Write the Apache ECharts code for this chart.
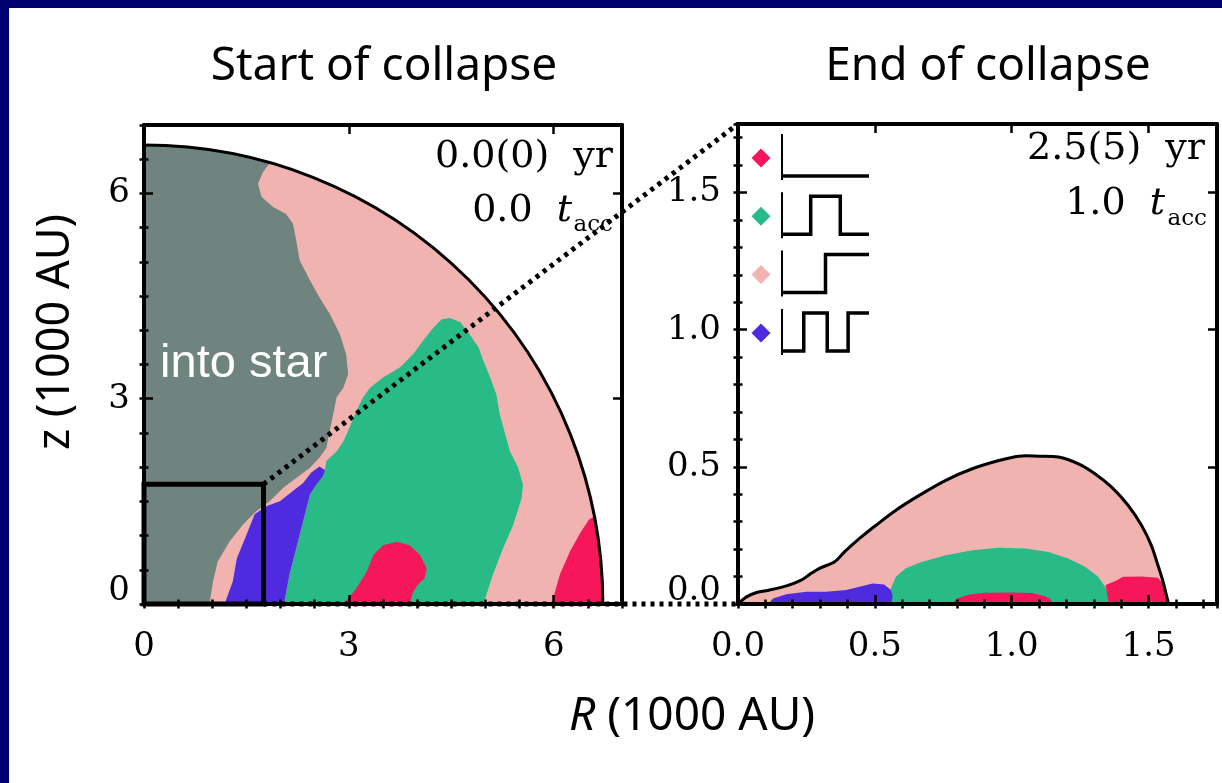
<!DOCTYPE html>
<html><head><meta charset="utf-8">
<script src="https://cdn.jsdelivr.net/npm/echarts@6/dist/echarts.min.js"></script>
<style>html,body{margin:0;padding:0;background:#fff}#c{width:1222px;height:783px}</style>
</head><body><div id="c"></div>
<script>
// ---------------- colours ----------------
const RED = '#f5175a', GREEN = '#28bb87', PINK = '#f1b3b0', BLUE = '#4f2ade', GRAY = '#6f837f', NAVY = '#000070';

// ---------------- left panel: start of collapse (R, z in 1000 AU) ----------------
const LEFT_MAX = 7, LEFT_MAJOR = 3, LEFT_MINOR = 0.5;
const cloudRadius = [6.72];
const zoomBox = [1.75];
const leftGray = [[0,0],[0,6.72],[0.6,6.69],[1.2,6.61],[1.84,6.44],[1.74,6.31],[1.67,6.14],[1.72,5.95],[1.89,5.80],[2.08,5.70],[2.18,5.56],[2.23,5.31],[2.28,5.02],[2.43,4.73],[2.57,4.48],[2.72,4.24],[2.87,3.94],[2.96,3.65],[2.99,3.36],[2.92,3.16],[2.82,3.02],[2.77,2.77],[2.72,2.53],[2.67,2.28],[2.57,2.14],[2.43,1.99],[2.23,1.84],[2.04,1.70],[1.84,1.50],[1.64,1.35],[1.45,1.16],[1.25,0.91],[1.08,0.62],[1.01,0.33],[0.96,0]];
const leftGreen = [[2.05,0],[4.97,0],[5.11,0.43],[5.26,0.82],[5.41,1.16],[5.53,1.55],[5.55,1.74],[5.48,1.99],[5.36,2.23],[5.29,2.48],[5.21,2.77],[5.16,3.06],[5.07,3.31],[4.97,3.55],[4.90,3.75],[4.77,3.94],[4.63,4.12],[4.48,4.18],[4.36,4.16],[4.24,4.04],[4.09,3.85],[3.94,3.65],[3.75,3.46],[3.50,3.31],[3.31,3.16],[3.21,3.02],[3.11,2.82],[3.01,2.58],[2.92,2.38],[2.82,2.23],[2.67,2.09],[2.65,1.96],[2.52,1.74],[2.43,1.60],[2.33,1.21],[2.23,0.82],[2.13,0.43]];
const leftBlue = [[1.18,0],[1.30,0.33],[1.36,0.67],[1.50,1.01],[1.62,1.31],[1.79,1.43],[1.99,1.50],[2.18,1.65],[2.33,1.77],[2.45,1.92],[2.57,2.01],[2.65,1.96],[2.62,1.87],[2.52,1.74],[2.43,1.60],[2.33,1.21],[2.23,0.82],[2.13,0.43],[2.05,0]];
const leftRedInner = [[2.92,0],[3.11,0.23],[3.26,0.47],[3.36,0.72],[3.50,0.86],[3.70,0.91],[3.89,0.86],[4.04,0.72],[4.14,0.52],[4.11,0.38],[4.01,0.28],[3.94,0.18],[3.89,0]];
const leftRedOuter = [[5.97,0],[6.09,0.43],[6.24,0.77],[6.39,1.04],[6.52,1.24],[6.60,1.28],[6.66,0.90],[6.69,0.60],[6.71,0.30],[6.72,0]];
const intoStar = [[1.46, 3.51, 'into star']];

// ---------------- right panel: end of collapse ----------------
const RIGHT_MAX = 1.75, RIGHT_MAJOR = 0.5, RIGHT_MINOR = 0.1;
const rightOutline = [[0,0],[0.031,0.026],[0.068,0.042],[0.116,0.051],[0.177,0.066],[0.231,0.087],[0.262,0.108],[0.298,0.130],[0.353,0.154],[0.389,0.190],[0.444,0.239],[0.504,0.287],[0.577,0.342],[0.662,0.396],[0.759,0.451],[0.856,0.493],[0.953,0.523],[1.025,0.539],[1.098,0.539],[1.171,0.536],[1.244,0.511],[1.304,0.475],[1.365,0.426],[1.425,0.360],[1.474,0.287],[1.510,0.214],[1.534,0.142],[1.553,0.081],[1.565,0.033],[1.573,0]];
const rightGreen = [[0.553,0],[0.559,0.057],[0.577,0.099],[0.613,0.130],[0.674,0.154],[0.759,0.178],[0.856,0.196],[0.953,0.205],[1.050,0.202],[1.134,0.190],[1.207,0.166],[1.268,0.136],[1.316,0.099],[1.341,0.063],[1.353,0.033],[1.359,0]];
const rightRedInner = [[0.777,0],[0.801,0.020],[0.844,0.035],[0.904,0.041],[1.001,0.042],[1.074,0.040],[1.116,0.030],[1.141,0.018],[1.153,0]];
const rightRedOuter = [[1.355,0],[1.347,0.045],[1.343,0.069],[1.377,0.083],[1.407,0.099],[1.474,0.100],[1.534,0.096],[1.556,0.069],[1.565,0.033],[1.573,0]];
const rightBlue = [[0.110,0],[0.128,0.020],[0.177,0.036],[0.250,0.045],[0.322,0.045],[0.395,0.051],[0.444,0.063],[0.492,0.075],[0.534,0.071],[0.559,0.051],[0.565,0.026],[0.559,0]];

// legend: colour + switching points of the step profile (fraction of width)
const legendColors = [RED, GREEN, PINK, BLUE];
const legendToggles = [[], [0.33, 0.67], [0.5], [0.25, 0.52, 0.76]];

// ---------------- text ----------------
const titles = ['Start of collapse', 'End of collapse'];
const leftTime = ['0.0(0)', '0.0'];
const rightTime = ['2.5(5)', '1.0'];

const SERIF = '"DejaVu Serif"';
const SANS = '"Noto Sans"';
const TICK_FONT = 34;

const chart = echarts.init(document.getElementById('c'), null, {renderer: 'canvas'});

function axisGroup(dim, g, max, major, minor, fmt, margin) {
  const common = {type: 'value', gridIndex: g, min: 0, max: max, z: 10, splitLine: {show: false}, axisPointer: {show: false}};
  const line = {show: true, onZero: false, lineStyle: {color: '#000', width: 4}};
  const tick = len => ({show: true, inside: true, length: len, lineStyle: {color: '#000', width: 2.5}});
  const pos = dim === 'x' ? ['bottom', 'top'] : ['left', 'right'];
  const label = {show: true, formatter: fmt, margin: margin, color: '#000', fontFamily: 'DejaVu Serif', fontSize: TICK_FONT,
    rich: {z: {fontFamily: 'DejaVu Serif', fontSize: TICK_FONT, color: '#000', padding: [0, 0, 26, 0]}}};
  return [
    Object.assign({}, common, {position: pos[0], interval: major, axisLine: line, axisTick: tick(9), axisLabel: label}),
    Object.assign({}, common, {position: pos[0], interval: minor, axisLine: {show: false}, axisTick: tick(4.5), axisLabel: {show: false}}),
    Object.assign({}, common, {position: pos[1], interval: major, axisLine: line, axisTick: tick(9), axisLabel: {show: false}}),
    Object.assign({}, common, {position: pos[1], interval: minor, axisLine: {show: false}, axisTick: tick(4.5), axisLabel: {show: false}})
  ];
}
const near = (v, m) => Math.abs(v / m - Math.round(v / m)) < 1e-6;
const leftXFmt = v => (near(v, LEFT_MAJOR) ? String(Math.round(v)) : '');
const leftYFmt = v => (v === 0 ? '{z|0}' : near(v, LEFT_MAJOR) ? String(Math.round(v)) : '');
const rightXFmt = v => (near(v, RIGHT_MAJOR) ? v.toFixed(1) : '');
const rightYFmt = v => (v === 0 ? '{z|0.0}' : near(v, RIGHT_MAJOR) ? v.toFixed(1) : '');

function polySeries(g, pts, fill) {
  const ai = g * 4;
  return {type: 'custom', coordinateSystem: 'cartesian2d', xAxisIndex: ai, yAxisIndex: ai, silent: true, clip: false,
    data: pts,
    renderItem: (params, api) => params.dataIndex !== 0 ? null : ({
      type: 'polygon', shape: {points: pts.map(p => api.coord(p))}, style: {fill: fill}
    })};
}
function lineSeries(g, pts, color, width) {
  const ai = g * 4;
  return {type: 'custom', coordinateSystem: 'cartesian2d', xAxisIndex: ai, yAxisIndex: ai, silent: true, clip: false,
    data: pts,
    renderItem: (params, api) => params.dataIndex !== 0 ? null : ({
      type: 'polyline', shape: {points: pts.map(p => api.coord(p)), smooth: 0.3}, style: {stroke: color, lineWidth: width, fill: null, lineJoin: 'round'}
    })};
}

const series = [
  // left: cloud (pink quarter disk)
  {type: 'custom', coordinateSystem: 'cartesian2d', xAxisIndex: 0, yAxisIndex: 0, silent: true, clip: false,
    data: [[0, 0, cloudRadius[0]]],
    renderItem: (params, api) => {
      const c = api.coord([api.value(0), api.value(1)]);
      const r = api.size([api.value(2), 0])[0];
      return {type: 'sector', shape: {cx: c[0], cy: c[1], r0: 0, r: r, startAngle: -Math.PI / 2, endAngle: 0, clockwise: true}, style: {fill: PINK}};
    }},
  polySeries(0, leftGray, GRAY),
  polySeries(0, leftGreen, GREEN),
  polySeries(0, leftBlue, BLUE),
  polySeries(0, leftRedInner, RED),
  polySeries(0, leftRedOuter, RED),
  // cloud edge
  {type: 'custom', coordinateSystem: 'cartesian2d', xAxisIndex: 0, yAxisIndex: 0, silent: true, clip: false,
    data: [[0, 0, cloudRadius[0]]],
    renderItem: (params, api) => {
      const c = api.coord([api.value(0), api.value(1)]);
      const r = api.size([api.value(2), 0])[0];
      return {type: 'arc', shape: {cx: c[0], cy: c[1], r: r, startAngle: -Math.PI / 2, endAngle: 0, clockwise: true}, style: {stroke: '#000', lineWidth: 3, fill: null}};
    }},
  // zoom box
  {type: 'custom', coordinateSystem: 'cartesian2d', xAxisIndex: 0, yAxisIndex: 0, silent: true, clip: false, z: 5,
    data: [[zoomBox[0], zoomBox[0]]],
    renderItem: (params, api) => {
      const p0 = api.coord([0, 0]);
      const p1 = api.coord([api.value(0), api.value(1)]);
      return {type: 'rect', shape: {x: p0[0], y: p1[1], width: p1[0] - p0[0], height: p0[1] - p1[1]}, style: {stroke: '#000', lineWidth: 5, fill: null}};
    }},
  // label
  {type: 'custom', coordinateSystem: 'cartesian2d', xAxisIndex: 0, yAxisIndex: 0, silent: true, clip: false,
    data: intoStar,
    renderItem: (params, api) => {
      const p = api.coord([api.value(0), api.value(1)]);
      return {type: 'text', x: p[0], y: p[1], style: {text: intoStar[params.dataIndex][2], fill: '#fff', fontSize: 47, fontFamily: 'Liberation Sans', align: 'center', verticalAlign: 'middle'}};
    }},
  // right panel
  polySeries(1, rightOutline, PINK),
  polySeries(1, rightGreen, GREEN),
  polySeries(1, rightRedInner, RED),
  polySeries(1, rightRedOuter, RED),
  polySeries(1, rightBlue, BLUE),
  lineSeries(1, rightOutline, '#000', 3)
];

const graphic = [
  {type: 'rect', shape: {x: 0, y: 0, width: 9, height: 783}, style: {fill: NAVY}, z: 200},
  {type: 'rect', shape: {x: 0, y: 0, width: 1222, height: 8}, style: {fill: NAVY}, z: 200},
  {type: 'text', x: 384, y: 67, style: {text: titles[0], font: '46px ' + SANS, fill: '#000', align: 'center', verticalAlign: 'middle'}},
  {type: 'text', x: 988, y: 67, style: {text: titles[1], font: '46px ' + SANS, fill: '#000', align: 'center', verticalAlign: 'middle'}},
  {type: 'text', x: 692, y: 717, style: {text: '{i|R} (1000 AU)', font: '46px ' + SANS, fill: '#000', align: 'center', verticalAlign: 'middle',
    rich: {i: {fontStyle: 'italic', fontSize: 46, fontFamily: 'Noto Sans', fill: '#000'}}}},
  {type: 'text', x: 56, y: 332, rotation: Math.PI / 2, style: {text: 'z (1000 AU)', font: '45px ' + SANS, fill: '#000', align: 'center', verticalAlign: 'middle'}},
  // time annotations
  {type: 'text', x: 613, y: 157, z: 50, style: {text: leftTime[0] + '  yr', font: '38px ' + SERIF, fill: '#000', align: 'right', verticalAlign: 'middle'}},
  {type: 'text', x: 572, y: 211, z: 50, style: {text: '{n|' + leftTime[1] + '}  {i|t}', font: '38px ' + SERIF, fill: '#000', align: 'right', verticalAlign: 'middle',
    rich: {n: {fontSize: 38, fontFamily: 'DejaVu Serif'}, i: {fontSize: 38, fontFamily: 'DejaVu Serif', fontStyle: 'italic'}}}},
  {type: 'text', x: 613, y: 225, z: 50, style: {text: 'acc', font: '23px ' + SERIF, fill: '#000', align: 'right', verticalAlign: 'middle'}},
  {type: 'text', x: 1205, y: 149, z: 50, style: {text: rightTime[0] + '  yr', font: '38px ' + SERIF, fill: '#000', align: 'right', verticalAlign: 'middle'}},
  {type: 'text', x: 1165, y: 204, z: 50, style: {text: '{n|' + rightTime[1] + '}  {i|t}', font: '38px ' + SERIF, fill: '#000', align: 'right', verticalAlign: 'middle',
    rich: {n: {fontSize: 38, fontFamily: 'DejaVu Serif'}, i: {fontSize: 38, fontFamily: 'DejaVu Serif', fontStyle: 'italic'}}}},
  {type: 'text', x: 1207, y: 219, z: 50, style: {text: 'acc', font: '23px ' + SERIF, fill: '#000', align: 'right', verticalAlign: 'middle'}}
];

// legend glyphs
const LG_DX = 761, LG_X0 = 782, LG_W = 87, LG_TOP = 134, LG_STEP = 58.3, LG_H = 46;
legendColors.forEach((col, i) => {
  const top = LG_TOP + i * LG_STEP;
  const hi = top + 4, lo = top + 42, cy = top + 24;
  graphic.push({type: 'polygon', z: 50, shape: {points: [[LG_DX, cy - 9.5], [LG_DX + 9.5, cy], [LG_DX, cy + 9.5], [LG_DX - 9.5, cy]]}, style: {fill: col}});
  graphic.push({type: 'line', z: 50, shape: {x1: LG_X0, y1: top, x2: LG_X0, y2: top + LG_H}, style: {stroke: '#000', lineWidth: 2}});
  const pts = [[LG_X0, lo]];
  let level = lo;
  legendToggles[i].forEach(t => {
    const x = LG_X0 + t * LG_W;
    pts.push([x, level]);
    level = level === lo ? hi : lo;
    pts.push([x, level]);
  });
  pts.push([LG_X0 + LG_W, level]);
  graphic.push({type: 'polyline', z: 50, shape: {points: pts}, style: {stroke: '#000', lineWidth: 3.5, fill: null}});
});

const option = {
  animation: false,
  backgroundColor: '#fff',
  grid: [
    {left: 144, top: 125, width: 478, height: 479, show: false, outerBoundsMode: 'none', containLabel: false},
    {left: 738, top: 124, width: 479, height: 480, show: false, outerBoundsMode: 'none', containLabel: false}
  ],
  xAxis: [].concat(axisGroup('x', 0, LEFT_MAX, LEFT_MAJOR, LEFT_MINOR, leftXFmt, 26), axisGroup('x', 1, RIGHT_MAX, RIGHT_MAJOR, RIGHT_MINOR, rightXFmt, 26)),
  yAxis: [].concat(axisGroup('y', 0, LEFT_MAX, LEFT_MAJOR, LEFT_MINOR, leftYFmt, 14), axisGroup('y', 1, RIGHT_MAX, RIGHT_MAJOR, RIGHT_MINOR, rightYFmt, 17)),
  series: series,
  graphic: graphic
};
chart.setOption(option);

// dotted connectors between zoom box and the right panel
const a = chart.convertToPixel({xAxisIndex: 0, yAxisIndex: 0}, [zoomBox[0], zoomBox[0]]);
const b = chart.convertToPixel({xAxisIndex: 4, yAxisIndex: 4}, [0, RIGHT_MAX]);
const c0 = chart.convertToPixel({xAxisIndex: 0, yAxisIndex: 0}, [zoomBox[0], 0]);
const d0 = chart.convertToPixel({xAxisIndex: 4, yAxisIndex: 4}, [0, 0]);
graphic.push({type: 'line', z: 100, shape: {x1: a[0], y1: a[1], x2: b[0], y2: b[1]}, style: {stroke: '#000', lineWidth: 5, lineDash: [4, 5]}});
graphic.push({type: 'line', z: 100, shape: {x1: c0[0], y1: c0[1], x2: d0[0], y2: d0[1]}, style: {stroke: '#000', lineWidth: 5, lineDash: [4, 5]}});
chart.setOption({graphic: graphic});
</script></body></html>
